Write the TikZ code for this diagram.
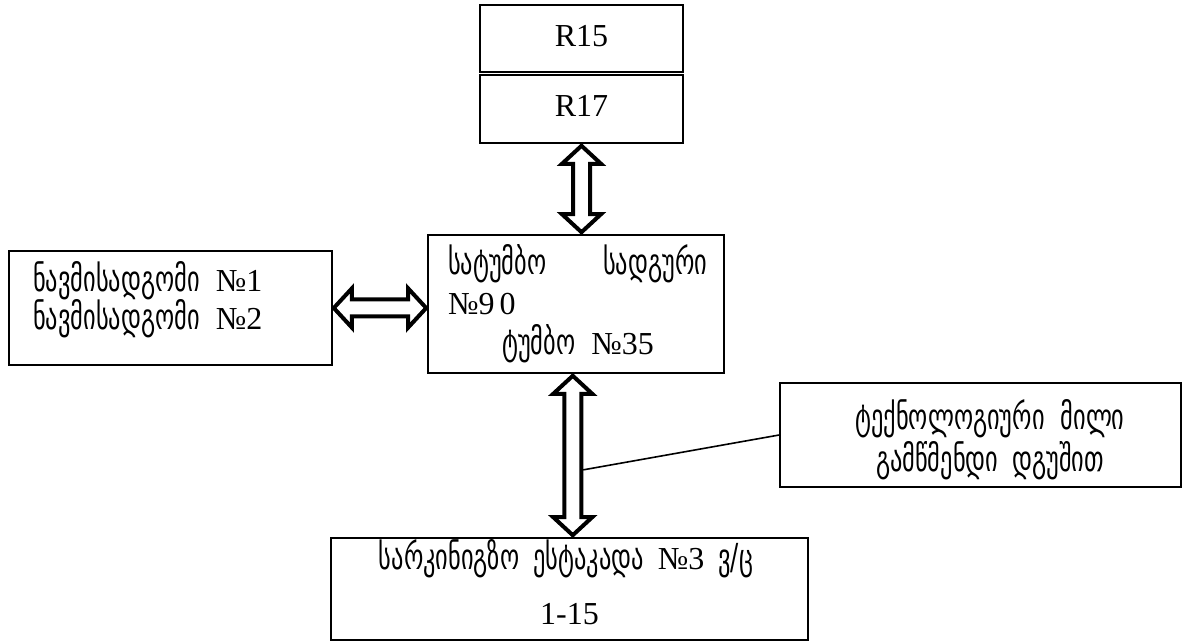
\documentclass[tikz,border=0pt]{standalone}
\usepackage{fontspec}
\setmainfont{Liberation Serif}
\newfontfamily\geofont[Scale=1.12,FakeStretch=0.68]{DejaVu Sans}
\newcommand\G[1]{{\geofont #1}}
\usetikzlibrary{calc}
\tikzset{
  box/.style={draw, line width=1.6pt, inner sep=0pt},
  fatarrow/.style={draw, fill=white, line width=4pt, line join=miter},
  lbl/.style={inner sep=0pt, font=\fontsize{32}{38}\selectfont},
  leader/.style={line width=1.6pt}
}
\newcommand\fatvert[3]{% top anchor, bottom anchor, weight of top x
  \draw[fatarrow] let \p1=(#1), \p2=(#2), \n1={#3*\x1+(1-#3)*\x2} in
    (\n1,\y1-2pt) -- (\n1-19.5pt,\y1-20pt) -- (\n1-8.5pt,\y1-20pt) --
    (\n1-8.5pt,\y2+20pt) -- (\n1-19.5pt,\y2+20pt) -- (\n1,\y2+2pt) --
    (\n1+19.5pt,\y2+20pt) -- (\n1+8.5pt,\y2+20pt) --
    (\n1+8.5pt,\y1-20pt) -- (\n1+19.5pt,\y1-20pt) -- cycle;}
\newcommand\fathor[2]{% left anchor, right anchor
  \draw[fatarrow] let \p1=(#1), \p2=(#2) in
    (\x1+1pt,\y1) -- (\x1+19pt,\y1+19.5pt) -- (\x1+19pt,\y1+8.5pt) --
    (\x2-19pt,\y1+8.5pt) -- (\x2-19pt,\y1+19.5pt) -- (\x2-1pt,\y1) --
    (\x2-19pt,\y1-19.5pt) -- (\x2-19pt,\y1-8.5pt) --
    (\x1+19pt,\y1-8.5pt) -- (\x1+19pt,\y1-19.5pt) -- cycle;}
\begin{document}
\begin{tikzpicture}[x=1pt,y=1pt]
\useasboundingbox (0,0) rectangle (1192,642);
% boxes
\node[box, minimum width=203pt, minimum height=67pt] (r15) at (581.5,603.5) {};
\node[box, minimum width=203pt, minimum height=68pt] (r17) at (581.5,533) {};
\node[box, minimum width=296pt, minimum height=138pt] (c) at (576,338) {};
\node[box, minimum width=323pt, minimum height=114pt] (l) at (170.5,334) {};
\node[box, minimum width=401pt, minimum height=104pt] (rb) at (980.5,207) {};
\node[box, minimum width=477pt, minimum height=102pt] (b) at (569.5,53) {};
% texts
\node[lbl, anchor=base] (t15) at (581.5,595) {R15};
\node[lbl, anchor=base] (t17) at (581.5,525) {R17};
\node[lbl, anchor=base west] (tl1) at (33,350) {\G{ნავმისადგომი}\ \ №1};
\node[lbl, anchor=base west] (tl2) at (33,312) {\G{ნავმისადგომი}\ \ №2};
\node[lbl, anchor=base west] (tc1) at (448,367) {\hbox to 259pt{\G{სატუმბო}\hfill\G{სადგური}}};
\node[lbl, anchor=base west] (tc2) at (448,327) {№9\hspace{5pt}0};
\node[lbl, anchor=base] (tc3) at (578,287) {\G{ტუმბო}\ \ №35};
\node[lbl, anchor=base] (tr1) at (990,212) {\G{ტექნოლოგიური}\hspace{16pt}\G{მილი}};
\node[lbl, anchor=base] (tr2) at (990,170) {\G{გამწმენდი}\hspace{14pt}\G{დგუშით}};
\node[lbl, anchor=base] (tb1) at (566,72) {\G{სარკინიგზო}\hspace{14pt}\G{ესტაკადა}\hspace{14pt}№3\hspace{14pt}\G{ვ/ც}};
\node[lbl, anchor=base] (tb2) at (569.5,17) {1-15};
% arrows
\fatvert{r17.south}{c.north}{1}
\fatvert{c.south}{b.north}{0.5}
\fathor{l.east}{c.west}
% leader line
\coordinate (lj) at ($(c.south)!0.588!(b.north)+(11,0)$);
\draw[leader] (lj) -- (rb.west);
\end{tikzpicture}
\end{document}
